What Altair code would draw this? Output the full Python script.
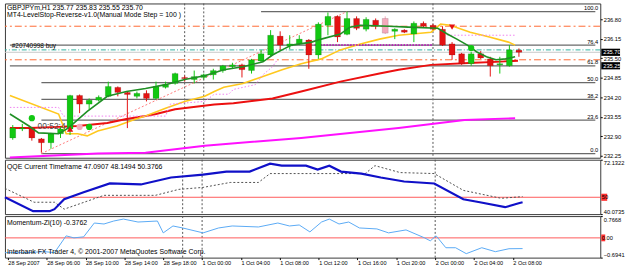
import altair as alt
import pandas as pd

# ---------------- data ----------------
bar_idx = list(range(54))
opens = [232.84, 233.14, 233.17, 232.81, 232.68, 232.98, 233.14, 234.26, 233.97, 234.10,
         234.23, 234.53, 234.36, 234.23, 234.33, 234.16, 234.53, 234.66, 234.86, 234.79,
         234.86, 234.95, 235.09, 235.22, 235.28, 235.09, 235.41, 235.61, 236.24, 235.91,
         235.98, 236.11, 235.61, 236.60, 236.90, 236.30, 236.83, 236.47, 236.77, 236.83,
         236.40, 236.44, 236.31, 236.67, 236.60, 236.47, 235.98, 235.65, 235.32, 235.65,
         235.48, 235.28, 235.25, 235.77]
highs = [233.27, 233.31, 233.21, 232.84, 233.01, 233.21, 234.28, 234.29, 234.16, 234.26,
         234.72, 234.56, 234.39, 234.39, 234.43, 234.72, 234.72, 235.02, 234.92, 235.09,
         234.99, 235.15, 235.28, 235.35, 235.32, 235.48, 235.78, 236.44, 236.40, 236.27,
         236.27, 236.14, 236.70, 237.03, 236.93, 237.06, 236.90, 236.87, 236.83, 236.90,
         236.50, 236.47, 236.73, 236.73, 236.64, 236.57, 236.04, 235.68, 235.71, 235.74,
         235.55, 235.55, 235.94, 235.83]
lows = [232.78, 233.07, 232.75, 232.35, 232.48, 232.84, 232.94, 233.67, 233.80, 234.06,
        234.20, 234.23, 233.17, 234.16, 234.06, 234.13, 234.49, 234.62, 234.72, 234.66,
        234.79, 234.79, 235.02, 235.15, 234.86, 234.99, 235.38, 235.55, 235.78, 235.81,
        235.94, 235.15, 235.48, 236.27, 236.04, 236.27, 236.44, 236.40, 236.47, 236.31,
        236.14, 236.34, 236.04, 236.54, 236.44, 235.91, 235.45, 235.28, 235.25, 235.48,
        234.89, 234.99, 235.22, 235.55]
closes = [233.17, 233.17, 232.84, 232.68, 232.98, 233.14, 234.26, 233.97, 234.10, 234.20,
          234.56, 234.36, 234.29, 234.33, 234.16, 234.56, 234.62, 234.99, 234.82, 234.89,
          234.95, 235.09, 235.25, 235.28, 235.12, 235.45, 235.65, 236.27, 235.94, 235.98,
          236.14, 235.61, 236.64, 236.90, 236.21, 236.83, 236.50, 236.80, 236.60, 236.34,
          236.47, 236.37, 236.67, 236.57, 236.47, 235.94, 235.61, 235.32, 235.65, 235.51,
          235.25, 235.32, 235.78, 235.70]
pink_candles = [39]

x_labels = ["28 Sep 2007", "28 Sep 06:00", "28 Sep 10:00", "28 Sep 14:00", "28 Sep 18:00",
            "1 Oct 00:00", "1 Oct 04:00", "1 Oct 08:00", "1 Oct 12:00", "1 Oct 16:00",
            "1 Oct 20:00", "2 Oct 00:00", "2 Oct 04:00", "2 Oct 08:00"]
x_label_bars = [0, 4, 8, 12, 16, 20, 24, 28, 32, 36, 40, 44, 48, 52]
separator_bars = [18, 20, 44]

green_x = [-0.3, 1.7, 2.7, 4.8, 5.8, 7.8, 9.9, 11.9, 13.9, 16.0, 18.0, 20.1, 22.1, 24.1, 26.2,
           27.2, 28.2, 29.2, 31.3, 32.3, 34.3, 35.3, 36.4, 39.4, 41.4, 44.5, 45.5, 46.5, 47.6,
           48.6, 49.6, 50.6, 51.6, 52.6]
green_y = [233.64, 233.24, 233.01, 232.98, 233.17, 233.73, 234.23, 234.39, 234.49, 234.62, 234.79,
           234.92, 235.12, 235.22, 235.38, 235.61, 235.78, 235.94, 236.04, 236.14, 236.31, 236.54,
           236.60, 236.57, 236.54, 236.50, 236.31, 236.14, 235.94, 235.71, 235.55, 235.45, 235.48,
           235.55]
yellow_x = [-0.3, 4.8, 5.6, 6.8, 7.8, 8.9, 10.9, 12.9, 13.9, 16.0, 18.0, 20.1, 21.1, 22.1, 24.1,
            26.2, 28.2, 30.2, 32.3, 34.3, 36.4, 38.4, 40.4, 43.8, 44.8, 45.8, 47.9, 49.9, 51.9, 52.6]
yellow_y = [234.26, 233.64, 232.98, 232.98, 232.91, 233.07, 233.24, 233.47, 233.57, 233.83, 234.06,
            234.23, 234.39, 234.53, 234.66, 234.89, 235.12, 235.32, 235.48, 235.78, 235.98, 236.14,
            236.27, 236.37, 236.64, 236.60, 236.37, 236.21, 236.04, 235.94]
red_x = [-0.3, 1.7, 4.8, 6.8, 9.9, 11.9, 13.9, 15.0, 17.0, 21.1, 23.1, 27.2, 30.2, 34.3, 38.4,
         40.4, 43.8, 48.3, 50.6, 52.9]
red_y = [233.17, 233.17, 233.21, 233.24, 233.34, 233.47, 233.57, 233.64, 233.80, 233.96, 234.00,
         234.16, 234.39, 234.72, 234.99, 235.12, 235.28, 235.35, 235.38, 235.42]
magenta_x = [-0.3, 8.9, 13.9, 20.1, 30.2, 40.4, 47.3, 52.6]
magenta_y = [232.19, 232.32, 232.35, 232.58, 232.84, 233.17, 233.44, 233.50]
stop_up_x = [-0.3, 4.8, 5.3, 16.0, 16.5, 20.1, 21.1, 22.6, 23.1, 25.4, 26.2, 27.2, 27.7]
stop_up_y = [233.86, 233.86, 233.57, 233.57, 233.97, 234.06, 234.30, 234.30, 234.46, 234.62,
             234.95, 235.22, 235.45]
stop_flat_x = [31.6, 43.9]
stop_flat_y = [235.94, 235.94]
stop_dn_x = [45.5, 52.6]
stop_dn_y = [236.27, 236.27]
trend_x = [3, 35]
trend_y = [232.32, 237.06]

fib_low, fib_high = 232.32, 237.06
fib_levels = [0.0, 23.6, 38.2, 50.0, 61.8, 76.4, 100.0]
fib_text = ["0.0", "23.6", "38.2", "50.0", "61.8", "76.4", "100.0"]
fib_start = [3, 3, 3, 3, -0.3, -0.3, 26]

orange_lines = [236.57, 235.45]
order_line = 235.78
bid_line = 235.70

marker_x = [2, 6, 7, 8, 46, 48, 48]
marker_y = [233.50, 233.14, 233.21, 233.21, 236.54, 235.84, 235.51]
marker_kind = ["reddot", "bluearrow", "tealdot", "bluedot", "redarrow", "reddot", "reddot"]

qqe_x = [-0.3, 2.6, 4.3, 4.8, 5.8, 7.8, 10.5, 13.7, 16.8, 20.1, 22.5, 24.9, 27.0, 28.2, 30.7,
         31.9, 33.1, 34.3, 36.4, 38.4, 40.8, 43.9, 46.9, 48.6, 51.2, 52.6, 53.0]
qqe_y = [49.98, 41.82, 41.82, 42.99, 48.82, 52.90, 58.14, 57.56, 61.64, 63.39, 65.14, 65.14, 69.80,
         68.63, 68.63, 66.30, 68.63, 65.14, 63.97, 61.64, 59.31, 58.14, 48.82, 47.07, 44.15, 46.49,
         47.09]
qqe2_x = [-0.3, 2.7, 4.8, 5.8, 9.9, 15.2, 17.6, 20.1, 22.9, 25.8, 27.0, 36.8, 37.8, 40.4, 43.9,
          46.9, 50.8, 53.0]
qqe2_y = [55.23, 47.07, 47.07, 42.99, 51.14, 51.14, 54.65, 55.81, 58.73, 58.73, 63.97, 63.97,
          68.63, 64.55, 63.97, 54.06, 49.40, 50.38]
mom_x = [-0.3, 1.7, 3.8, 4.8, 6.0, 6.8, 7.8, 8.9, 9.9, 10.9, 11.9, 13.4, 15.4, 16.0, 17.0, 18.0,
         20.1, 21.7, 23.1, 25.8, 27.8, 29.0, 30.0, 31.1, 32.3, 33.1, 34.1, 35.1, 36.2, 38.0, 39.2,
         41.0, 42.9, 43.5, 44.1, 45.1, 46.1, 47.2, 48.8, 50.2, 51.6, 53.0]
mom_y = [-0.52, -0.52, -0.485, -0.52, 0.071, 0.002, 0.036, 0.523, 0.489, 0.593, 0.662, 0.558,
         0.593, 0.176, 0.419, 0.349, 0.176, 0.349, 0.419, 0.384, 0.523, 0.419, 0.454, 0.210, 0.558,
         0.662, 0.489, 0.558, 0.349, 0.315, 0.176, 0.280, 0.002, -0.103, 0.071, -0.346, -0.346,
         -0.555, -0.346, -0.485, -0.381, -0.3762]

# ---------------- helpers ----------------
FONT = "Liberation Sans"
AXF = 5.8
W = 602
xscale = alt.Scale(domain=[-0.3, 61.0], nice=False, zero=False)
X = lambda f: alt.X(f, type="quantitative", scale=xscale, axis=None)

cdf = pd.DataFrame({"bar": bar_idx, "open": opens, "high": highs, "low": lows, "close": closes})
cdf["col"] = ["pink" if i in pink_candles else ("up" if c >= o else "down")
              for i, o, c in zip(bar_idx, opens, closes)]
colscale = alt.Scale(domain=["up", "down", "pink"], range=["#12c812", "#e41212", "#f4a9bb"])

# main panel
ys = alt.Scale(domain=[232.18, 237.33], nice=False, zero=False)
yax = alt.Axis(orient="right", values=[232.25, 232.90, 233.55, 234.20, 234.85, 235.50, 236.15, 236.80],
               format=".2f", tickSize=2, labelPadding=1, title=None, domain=False, grid=False)
Y = lambda f: alt.Y(f, type="quantitative", scale=ys, axis=yax)


def line_df(xs, yv):
    return pd.DataFrame({"bar": xs, "v": yv})


fdf = pd.DataFrame({"lvl": fib_levels, "txt": fib_text, "start": fib_start})
fdf["price"] = fib_low + fdf["lvl"] / 100.0 * (fib_high - fib_low)
fdf["end"] = 61.0

sep = alt.Chart(pd.DataFrame({"bar": separator_bars})).mark_rule(
    color="#555555", strokeDash=[2, 2], strokeWidth=1).encode(x=X("bar"))

hl = pd.DataFrame({"v": orange_lines})
orange = alt.Chart(hl).mark_rule(color="#ff6a33", strokeDash=[7, 3, 2, 3], strokeWidth=1).encode(y=Y("v"))
order = alt.Chart(pd.DataFrame({"v": [order_line]})).mark_rule(
    color="#2fb3a0", strokeDash=[5, 2, 1, 2], strokeWidth=1).encode(y=Y("v"))
bid = alt.Chart(pd.DataFrame({"v": [bid_line]})).mark_rule(color="#c8c8c8", strokeWidth=1).encode(y=Y("v"))
fib = alt.Chart(fdf).mark_rule(color="#6a6a6a", strokeWidth=1.2).encode(
    x=X("start"), x2="end", y=Y("price"))
fibtxt = alt.Chart(fdf).mark_text(align="right", baseline="bottom", font=FONT, fontSize=AXF,
                                  color="#000000", dy=-0.5).encode(x=alt.value(600), y=Y("price"), text="txt")

trend = alt.Chart(line_df(trend_x, trend_y)).mark_line(
    color="#ff7b7b", strokeDash=[2, 2], strokeWidth=1).encode(x=X("bar"), y=Y("v"))
magenta = alt.Chart(line_df(magenta_x, magenta_y)).mark_line(color="#ff10ff", strokeWidth=2).encode(x=X("bar"), y=Y("v"))
redma = alt.Chart(line_df(red_x, red_y)).mark_line(color="#ec1010", strokeWidth=2).encode(x=X("bar"), y=Y("v"))
yellow = alt.Chart(line_df(yellow_x, yellow_y)).mark_line(color="#ffc81e", strokeWidth=1.6).encode(x=X("bar"), y=Y("v"))
stop_up = alt.Chart(line_df(stop_up_x, stop_up_y)).mark_line(
    color="#f07ef0", strokeDash=[1.5, 2], strokeWidth=1).encode(x=X("bar"), y=Y("v"))
stop_flat = alt.Chart(line_df(stop_flat_x, stop_flat_y)).mark_line(
    color="#c000c0", strokeDash=[1.5, 1.5], strokeWidth=1.5).encode(x=X("bar"), y=Y("v"))
stop_dn = alt.Chart(line_df(stop_dn_x, stop_dn_y)).mark_line(
    color="#f07ef0", strokeDash=[1.5, 2], strokeWidth=1).encode(x=X("bar"), y=Y("v"))

wick = alt.Chart(cdf).mark_rule(strokeWidth=1).encode(
    x=X("bar"), y=Y("low"), y2="high", color=alt.Color("col:N", scale=colscale, legend=None))
body = alt.Chart(cdf).mark_bar(size=6, stroke="#000000", strokeOpacity=0.25, strokeWidth=0.5).encode(
    x=X("bar"), y=Y("open"), y2="close", color=alt.Color("col:N", scale=colscale, legend=None))

green = alt.Chart(line_df(green_x, green_y)).mark_line(color="#1f8f24", strokeWidth=1.6).encode(x=X("bar"), y=Y("v"))

mdf = pd.DataFrame({"bar": marker_x, "v": marker_y, "k": marker_kind})
mk_shape = alt.Scale(domain=["reddot", "bluearrow", "tealdot", "bluedot", "redarrow"],
                     range=["circle", "triangle-up", "circle", "circle", "triangle-down"])
mk_col = alt.Scale(domain=["reddot", "bluearrow", "tealdot", "bluedot", "redarrow"],
                   range=["#e01818", "#4aa8ff", "#1b7688", "#2f8cff", "#ff5a2a"])
markers = alt.Chart(mdf).mark_point(filled=True, size=40, opacity=1).encode(
    x=X("bar"), y=Y("v"),
    shape=alt.Shape("k:N", scale=mk_shape, legend=None),
    color=alt.Color("k:N", scale=mk_col, legend=None))

timer = alt.Chart(pd.DataFrame({"bar": [2.6], "v": [233.24], "t": ["00:52:4"]})).mark_text(
    align="left", baseline="middle", font=FONT, fontSize=8.5, color="#505050").encode(
    x=X("bar"), y=Y("v"), text="t")
ordtxt = alt.Chart(pd.DataFrame({"bar": [-0.1], "v": [235.90], "t": ["#20740998 buy"]})).mark_text(
    align="left", baseline="middle", font=FONT, fontSize=6.5, color="#000000").encode(
    x=X("bar"), y=Y("v"), text="t")

title_lines = ["GBPJPYm,H1  235.77 235.83 235.55 235.70",
               "MT4-LevelStop-Reverse-v1.0(Manual Mode Step = 100 )"]
ttl1 = alt.Chart(pd.DataFrame({"t": [title_lines[0]]})).mark_text(
    align="left", baseline="top", font=FONT, fontSize=7, color="#000000").encode(
    x=alt.value(2), y=alt.value(1), text="t")
ttl2 = alt.Chart(pd.DataFrame({"t": [title_lines[1]]})).mark_text(
    align="left", baseline="top", font=FONT, fontSize=7, color="#000000").encode(
    x=alt.value(2), y=alt.value(8), text="t")

boxes = pd.DataFrame({"v": [235.70, 235.25], "t": ["235.70", "235.25"]})
boxes["lo"] = boxes["v"] - 0.12
boxes["hi"] = boxes["v"] + 0.12
box_r = alt.Chart(boxes).mark_rect(color="#000000").encode(
    x=alt.value(603), x2=alt.value(622), y=Y("lo"), y2="hi")
box_t = alt.Chart(boxes).mark_text(align="left", baseline="middle", font=FONT, fontSize=AXF,
                                   color="#ffffff").encode(x=alt.value(605), y=Y("v"), text="t")

main = alt.layer(sep, fib, orange, order, bid, fibtxt, trend, magenta, redma, yellow, stop_up,
                 stop_flat, stop_dn, wick, body, green, markers, timer, ordtxt, box_r, box_t,
                 ttl1, ttl2).properties(width=W, height=156)

# QQE panel
qs = alt.Scale(domain=[40.0735, 72.1322], nice=False, zero=False)
qax = alt.Axis(orient="right", values=[40.0735, 72.1322], format=".4f", tickSize=2, labelPadding=1,
               title=None, domain=False, grid=False, labelFlush=True)
QY = lambda f: alt.Y(f, type="quantitative", scale=qs, axis=qax)
q_sep = alt.Chart(pd.DataFrame({"bar": separator_bars})).mark_rule(
    color="#555555", strokeDash=[2, 2], strokeWidth=1).encode(x=X("bar"))
q50 = alt.Chart(pd.DataFrame({"v": [50.0]})).mark_rule(color="#ff5a5a", strokeWidth=1).encode(y=QY("v"))
q2 = alt.Chart(line_df(qqe2_x, qqe2_y)).mark_line(color="#505050", strokeDash=[2, 2], strokeWidth=1).encode(
    x=X("bar"), y=QY("v"))
q1 = alt.Chart(line_df(qqe_x, qqe_y)).mark_line(color="#1010c8", strokeWidth=2.2).encode(x=X("bar"), y=QY("v"))
qbox = pd.DataFrame({"v": [50.0], "lo": [47.9], "hi": [52.1], "t": ["50"]})
qb_r = alt.Chart(qbox).mark_rect(color="#ff3030").encode(x=alt.value(603), x2=alt.value(609), y=QY("lo"), y2="hi")
qb_t = alt.Chart(qbox).mark_text(align="left", baseline="middle", font=FONT, fontSize=AXF, color="#000000").encode(
    x=alt.value(603.5), y=QY("v"), text="t")
q_title = alt.Chart(pd.DataFrame({"t": ["QQE Current Timeframe 47.0907 48.1494 50.3766"]})).mark_text(
    align="left", baseline="top", font=FONT, fontSize=7, color="#000000").encode(
    x=alt.value(2), y=alt.value(3), text="t")
qqe = alt.layer(q_sep, q50, q2, q1, qb_r, qb_t, q_title).properties(width=W, height=55)

# Momentum panel
ms = alt.Scale(domain=[-0.6941, 0.7668], nice=False, zero=False)
max_ = alt.Axis(orient="right", values=[-0.6941, 0.7668], format=".4f", tickSize=2, labelPadding=1,
                title=None, domain=False, grid=False, labelFlush=True)
MY = lambda f: alt.Y(f, type="quantitative", scale=ms, axis=max_)
label_expr = "[" + ",".join("'%s'" % s for s in x_labels) + "][round(datum.value/4)]"
xax = alt.Axis(values=x_label_bars, labelExpr=label_expr, labelAlign="left", labelFlush=False,
               labelOverlap=False, labelBound=False, tickSize=2, labelPadding=1, title=None,
               domain=False, grid=False, labelFont=FONT, labelFontSize=5.6)
XB = lambda f: alt.X(f, type="quantitative", scale=xscale, axis=xax)
m_sep = alt.Chart(pd.DataFrame({"bar": separator_bars})).mark_rule(
    color="#555555", strokeDash=[2, 2], strokeWidth=1).encode(x=XB("bar"))
m0 = alt.Chart(pd.DataFrame({"v": [0.0]})).mark_rule(color="#ff5a5a", strokeWidth=1).encode(y=MY("v"))
m1 = alt.Chart(line_df(mom_x, mom_y)).mark_line(color="#5aaaf5", strokeWidth=1).encode(x=XB("bar"), y=MY("v"))
mbox = pd.DataFrame({"v": [0.0], "lo": [-0.12], "hi": [0.12], "t": ["0.00"]})
mb_r = alt.Chart(mbox).mark_rect(color="#ff3030").encode(x=alt.value(603), x2=alt.value(607), y=MY("lo"), y2="hi")
mb_t = alt.Chart(mbox).mark_text(align="left", baseline="middle", font=FONT, fontSize=AXF, color="#000000").encode(
    x=alt.value(603.5), y=MY("v"), text="t")
m_title = alt.Chart(pd.DataFrame({"t": ["Momentum-Zl(10) -0.3762"]})).mark_text(
    align="left", baseline="top", font=FONT, fontSize=7, color="#000000").encode(
    x=alt.value(2), y=alt.value(3), text="t")
m_copy = alt.Chart(pd.DataFrame({"t": ["Interbank FX Trader 4, \u00a9 2001-2007 MetaQuotes Software Corp."]})).mark_text(
    align="left", baseline="middle", font=FONT, fontSize=7, color="#000000").encode(
    x=alt.value(2), y=alt.value(36), text="t")
mom = alt.layer(m_sep, m0, m1, mb_r, mb_t, m_title, m_copy).properties(width=W, height=42)

chart = alt.vconcat(main, qqe, mom, spacing=2, bounds="flush").properties(
    padding={"left": 0, "top": 1, "right": 0, "bottom": 0}, background="#ffffff"
).configure_view(stroke="#3a3a3a", strokeWidth=1).configure_axis(
    labelFont=FONT, labelFontSize=AXF, labelColor="#000000", tickColor="#000000"
).configure_concat(spacing=2)

chart.save("out.html", embed_options={"renderer": "svg", "actions": False})
